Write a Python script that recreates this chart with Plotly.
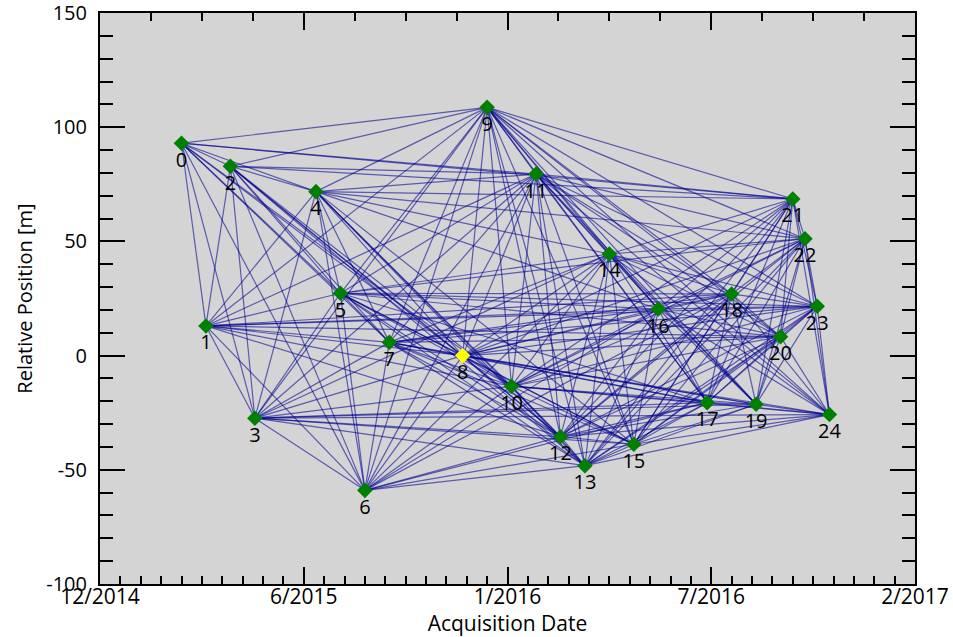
import plotly.graph_objects as go
from datetime import date
from itertools import combinations

# ---- data -------------------------------------------------------------
acq_dates = [
    "2015-02-23", "2015-03-19", "2015-04-12", "2015-05-06", "2015-07-05",
    "2015-07-29", "2015-08-22", "2015-09-15", "2015-11-26", "2015-12-20",
    "2016-01-13", "2016-02-06", "2016-03-01", "2016-03-25", "2016-04-18",
    "2016-05-12", "2016-06-05", "2016-07-23", "2016-08-16", "2016-09-09",
    "2016-10-03", "2016-10-15", "2016-10-27", "2016-11-08", "2016-11-20",
]
rel_position = [
    93.0, 13.0, 82.9, -27.4, 71.8,
    27.3, -59.0, 5.8, 0.0, 108.7,
    -13.4, 79.5, -35.5, -48.2, 44.5,
    -38.8, 20.4, -20.6, 27.0, -21.3,
    8.3, 68.6, 51.2, 21.6, -25.8,
]
node_labels = [str(i) for i in range(len(acq_dates))]
master_index = 8

# connection criteria (estimated from the graph)
max_temporal_baseline_days = 365
max_position_diff_long_pairs = 30.0

x_tick_vals = ["2014-12-05", "2015-06-23", "2016-01-09", "2016-07-27", "2017-02-12"]
x_tick_text = ["12/2014", "6/2015", "1/2016", "7/2016", "2/2017"]
x_range = ["2014-12-05", "2017-02-12"]
y_tick_vals = [-100, -50, 0, 50, 100, 150]
y_tick_text = ["-100", "-50", "0", "50", "100", "150"]

# ---- connections -------------------------------------------------------
d = [date.fromisoformat(s) for s in acq_dates]
edges = []
for i, j in combinations(range(len(d)), 2):
    dt = abs((d[j] - d[i]).days)
    dp = abs(rel_position[j] - rel_position[i])
    if dt <= max_temporal_baseline_days or dp <= max_position_diff_long_pairs:
        edges.append((i, j))

FONT = "Open Sans"
fig = go.Figure()

for i, j in edges:
    fig.add_trace(go.Scatter(
        x=[acq_dates[i], acq_dates[j]], y=[rel_position[i], rel_position[j]],
        mode="lines", line=dict(color="rgba(0,0,145,0.58)", width=1.2),
        hoverinfo="skip", showlegend=False))

colors = ["#ffff00" if k == master_index else "#008000" for k in range(len(acq_dates))]
fig.add_trace(go.Scatter(
    x=acq_dates, y=rel_position, mode="markers+text",
    text=node_labels, textposition="bottom center",
    textfont=dict(family=FONT, size=20, color="black"),
    marker=dict(symbol="diamond", size=12, color=colors, line=dict(width=0)),
    showlegend=False))

# invisible traces so the extra axes render
fig.add_trace(go.Scatter(x=x_range, y=[None, None], xaxis="x2", yaxis="y",
                         mode="lines", showlegend=False, hoverinfo="skip"))
fig.add_trace(go.Scatter(x=x_range, y=[None, None], xaxis="x3", yaxis="y",
                         mode="lines", showlegend=False, hoverinfo="skip"))

DAY = 86400000
frame = dict(showline=True, linecolor="black", linewidth=2, showgrid=False, zeroline=False)
fig.update_layout(
    width=953, height=637,
    margin=dict(l=100, r=38, t=13, b=53, autoexpand=False),
    paper_bgcolor="white", plot_bgcolor="#d4d4d4",
    font=dict(family=FONT, size=21, color="black"),
    xaxis=dict(
        type="date", range=x_range, tickmode="array",
        tickvals=x_tick_vals, showticklabels=False, automargin=False,
        ticks="inside", ticklen=17, tickwidth=2, tickcolor="black",
        minor=dict(tickmode="linear", tick0=x_range[0], dtick=20 * DAY,
                   ticks="inside", ticklen=8, tickwidth=2, tickcolor="black", showgrid=False),
        **frame,
    ),
    # tick labels + title of the date axis
    xaxis3=dict(
        type="date", range=x_range, overlaying="x", anchor="free", position=0.004,
        tickmode="array", tickvals=x_tick_vals, ticktext=x_tick_text,
        ticks="", showline=False, showgrid=False, zeroline=False, automargin=False,
        tickfont=dict(size=21), ticklabeloverflow="allow",
        title=dict(text="Acquisition Date", font=dict(size=21), standoff=1),
    ),
    xaxis2=dict(
        type="date", range=x_range, overlaying="x", side="top", tickmode="array",
        tickvals=x_tick_vals, showticklabels=False, automargin=False,
        ticks="inside", ticklen=17, tickwidth=2, tickcolor="black",
        minor=dict(tickmode="linear", tick0=x_range[0], dtick=50 * DAY,
                   ticks="inside", ticklen=8, tickwidth=2, tickcolor="black", showgrid=False),
        **frame,
    ),
    yaxis=dict(
        range=[-100, 150.02], tickmode="array", tickvals=y_tick_vals, ticktext=y_tick_text,
        automargin=False,
        ticks="inside", ticklen=25, tickwidth=2, tickcolor="black", mirror="ticks",
        ticklabelstandoff=7, ticklabeloverflow="allow",
        minor=dict(tickmode="linear", tick0=0, dtick=10, ticks="inside",
                   ticklen=13, tickwidth=2, tickcolor="black", showgrid=False),
        title=dict(text="Relative Position [m]", font=dict(size=20), standoff=8),
        tickfont=dict(size=20),
        **frame,
    ),
)

fig.write_html("out.html")
